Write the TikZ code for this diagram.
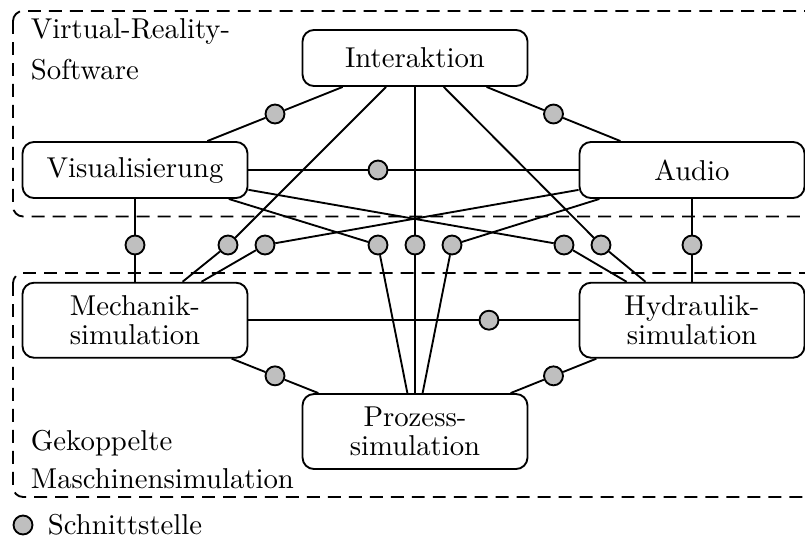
\documentclass[tikz,border=0pt]{standalone}
\usetikzlibrary{calc}
\definecolor{portgray}{gray}{0.75}
\begin{document}
\begin{tikzpicture}[x=0.348pt,y=-0.348pt,
  line width=0.65pt,
  box/.style={draw,rounded corners=4pt,minimum width=78.3pt,minimum height=19.5pt,
    align=center,inner sep=0pt},
  box2/.style={box,minimum height=26.1pt},
  port/.style={circle,draw,fill=portgray,minimum size=6.6pt,inner sep=0pt},
  group/.style={draw,dash pattern=on 4.5pt off 2.8pt,rounded corners=3.5pt},
  lbl/.style={anchor=base west,inner sep=0pt}]
\clip (0,0) rectangle (805,538);

% system groups
\draw[group] (13,11) rectangle (840,216.5);
\draw[group] (13,273) rectangle (840,497);

\node[lbl] (vr1) at (30,38) {Virtual-Reality-};
\node[lbl] (vr2) at (30,79) {Software};
\node[lbl] (gm1) at (30,450) {Gekoppelte};
\node[lbl] (gm2) at (30,488) {Maschinensimulation};

% components
\node[box]  (int)  at (415,58)    {Interaktion};
\node[box]  (vis)  at (135,170)   {Visualisierung};
\node[box]  (aud)  at (692,170)   {Audio};
\node[box2] (mech) at (135,320.2) {Mechanik-\\[-2pt]simulation};
\node[box2] (hyd)  at (692,320.2) {Hydraulik-\\[-2pt]simulation};
\node[box2] (proz) at (415,431.5) {Prozess-\\[-2pt]simulation};

% interfaces inside the groups
\node[port] (q1) at ($(int)!0.5!(vis)$) {};
\node[port] (q2) at ($(int)!0.5!(aud)$) {};
\node[port] (q3) at (378,170) {};
\node[port] (q4) at (489,320.2) {};
\node[port] (q5) at ($(mech)!0.5!(proz)$) {};
\node[port] (q6) at ($(hyd)!0.5!(proz)$) {};

% interfaces between the groups
\node[port] (p1) at (135,245) {};
\node[port] (p2) at (228,245) {};
\node[port] (p3) at (265,245) {};
\node[port] (p4) at (378,245) {};
\node[port] (p5) at (415,245) {};
\node[port] (p6) at (452,245) {};
\node[port] (p7) at (564,245) {};
\node[port] (p8) at (601,245) {};
\node[port] (p9) at (692,245) {};

% couplings
\draw (int) -- (q1) -- (vis);
\draw (int) -- (q2) -- (aud);
\draw (vis) -- (q3) -- (aud);
\draw (mech) -- (q4) -- (hyd);
\draw (mech) -- (q5) -- (proz);
\draw (hyd) -- (q6) -- (proz);

\draw (vis) -- (p1) -- (mech);
\draw (int) -- (p2) -- (mech);
\draw (aud) -- (p3) -- (mech);
\draw (vis) -- (p4) -- (proz);
\draw (int) -- (p5) -- (proz);
\draw (aud) -- (p6) -- (proz);
\draw (vis) -- (p7) -- (hyd);
\draw (int) -- (p8) -- (hyd);
\draw (aud) -- (p9) -- (hyd);

% legend
\node[port] (leg) at (23,525) {};
\node[lbl] (legt) at (47,534.5) {Schnittstelle};
\end{tikzpicture}
\end{document}
